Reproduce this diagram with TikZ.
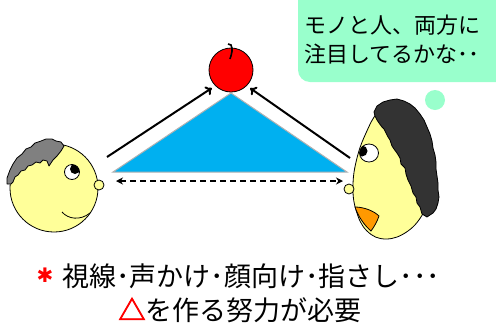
\documentclass[tikz,border=0pt]{standalone}
\usepackage{fontspec}
\setmainfont{Noto Sans CJK JP}
\newfontfamily\dingfont{DejaVu Sans}
\newfontfamily\trifont[FakeBold=3]{Noto Sans CJK JP}
\usetikzlibrary{arrows.meta}

\definecolor{skin}{HTML}{FFFF99}
\definecolor{hairgray}{HTML}{808080}
\definecolor{hairdark}{HTML}{333333}
\definecolor{tricol}{HTML}{00B0F0}
\definecolor{mint}{HTML}{99FFCC}
\definecolor{mouthcol}{HTML}{FF9900}

\begin{document}
\begin{tikzpicture}[x=1pt,y=-1pt,
        face/.style={draw, fill=skin, line width=0.8pt},
        look/.style={line width=2pt, -{To[length=6pt,width=10pt]}, shorten >=4pt},
        say/.style={anchor=base west, inner sep=0, font=\fontsize{22}{26}\selectfont},
        big/.style={inner sep=0, font=\fontsize{27}{30}\selectfont}]
        \useasboundingbox (0,0) rectangle (496,325);
        \clip (0,0) rectangle (496,325);

        % speech bubble
        \fill[mint, rounded corners=12pt] (298,-12) rectangle (520,82);
        \fill[mint] (435,100) circle (10);
        \node[say] (say1) at (304,33) {モノと人、両方に};
        \node[say] (say2) at (304,62) {注目してるかな･･};

        % triangle between the two
        \coordinate (tl) at (113,172);
        \coordinate (tt) at (231,93);
        \coordinate (tr) at (347,172);
        \draw[fill=tricol, draw=gray!60, line width=1pt] (tl) -- (tt) -- (tr) -- cycle;

        % apple
        \node[circle, draw, fill=red, minimum size=44pt, inner sep=0, line width=0.8pt] (apple) at (231,70) {};
        \draw[line width=1.6pt] (230,59) .. controls (232,53) and (233,49) .. (231,45) -- (228,44);

        % lines of sight
        \coordinate (lookL) at (107,157);
        \coordinate (lookR) at (350,158);
        \draw[look] (lookL) -- (apple.south west);
        \draw[look] (lookR) -- (apple.south east);
        \coordinate (gapL) at (116,181);
        \coordinate (gapR) at (343,181);
        \draw[line width=1.6pt, dash pattern=on 6pt off 4pt, {Stealth[length=7pt,width=7pt]}-{Stealth[length=7pt,width=7pt]}] (gapL) -- (gapR);

        % left face
        \draw[face] (54,188) circle (44);
        \draw[fill=hairgray, line width=0.8pt, line join=round] (7,184) -- (7,178) -- (10,170) -- (13,164) -- (17,158) -- (22,154) -- (26,149) -- (31,147) -- (35,143) -- (41,141) -- (46,139) -- (52,139) -- (56,141) -- (61,142) -- (64,146)
            -- (61,151) -- (57,156) -- (53,160) -- (49,166) -- (47,161) -- (43,160) -- (40,163) -- (36,162) -- (32,165) -- (28,166) -- (25,170) -- (21,171) -- (18,175) -- (15,177) -- (13,182) -- (11,184) -- cycle;
        \draw[fill=white, line width=0.8pt] (72,172) circle (7.5);
        \begin{scope}
            \clip (72,172) circle (7.5);
            \fill (75,169) circle (5);
        \end{scope}
        \draw[face] (99,185) circle (5);
        \draw[line width=0.8pt] (62,212) .. controls (68,219) and (80,221) .. (90,213);

        % right face, an egg with the top under the hair
        \draw[face] plot[smooth cycle, tension=0.7] coordinates {(395,101) (410,106) (422,120) (430,140) (434,165) (432,190) (424,212) (408,231) (386,239) (367,231) (356,210) (353,185) (357,158) (366,133) (378,112)};
        \draw[fill=hairdark, line width=0.8pt, line join=round] (390,100) -- (397,99) -- (404,101) -- (410,104) -- (415,108) -- (420,114) -- (424,120) -- (427,127) -- (430,134) -- (432,141) -- (433,148) -- (435,155) -- (436,162) -- (436,169) -- (437,176) -- (438,183) -- (438,190) -- (439,197) -- (438,203) -- (436,209) -- (433,213) -- (427,217) -- (422,214)
            -- (420,207) -- (417,203) -- (416,197) -- (413,193) -- (411,186) -- (408,180) -- (406,174) -- (405,168) -- (401,164) -- (400,158) -- (397,153) -- (394,149) -- (392,146) -- (390,140) -- (388,137) -- (386,133) -- (384,129) -- (382,127) -- (379,123) -- (377,120) -- (375,116) -- (374,112) -- (377,106) -- (383,102) -- cycle;
        \draw[fill=white, line width=0.8pt] (369,153) ellipse [x radius=9.5, y radius=9];
        \begin{scope}
            \clip (369,153) ellipse [x radius=9.5, y radius=9];
            \fill (362,151) circle (5.5);
        \end{scope}
        \draw[face] (349,189) circle (5);
        \draw[fill=mouthcol, line width=0.8pt] (355,207) .. controls (364,207) and (374,211) .. (379,216) .. controls (377,222) and (374,227) .. (371,231) .. controls (364,225) and (358,216) .. cycle;

        % caption
        \node[text=red, font=\dingfont\fontsize{20}{20}\selectfont] (star) at (45,275) {✱};
        \node[big, anchor=base west] (how) at (62,286) {視線･声かけ･顔向け･指さし･･･};
        \node[big, anchor=base] (need) at (240,320) {{\trifont\color{red}△}を作る努力が必要};
\end{tikzpicture}
\end{document}
